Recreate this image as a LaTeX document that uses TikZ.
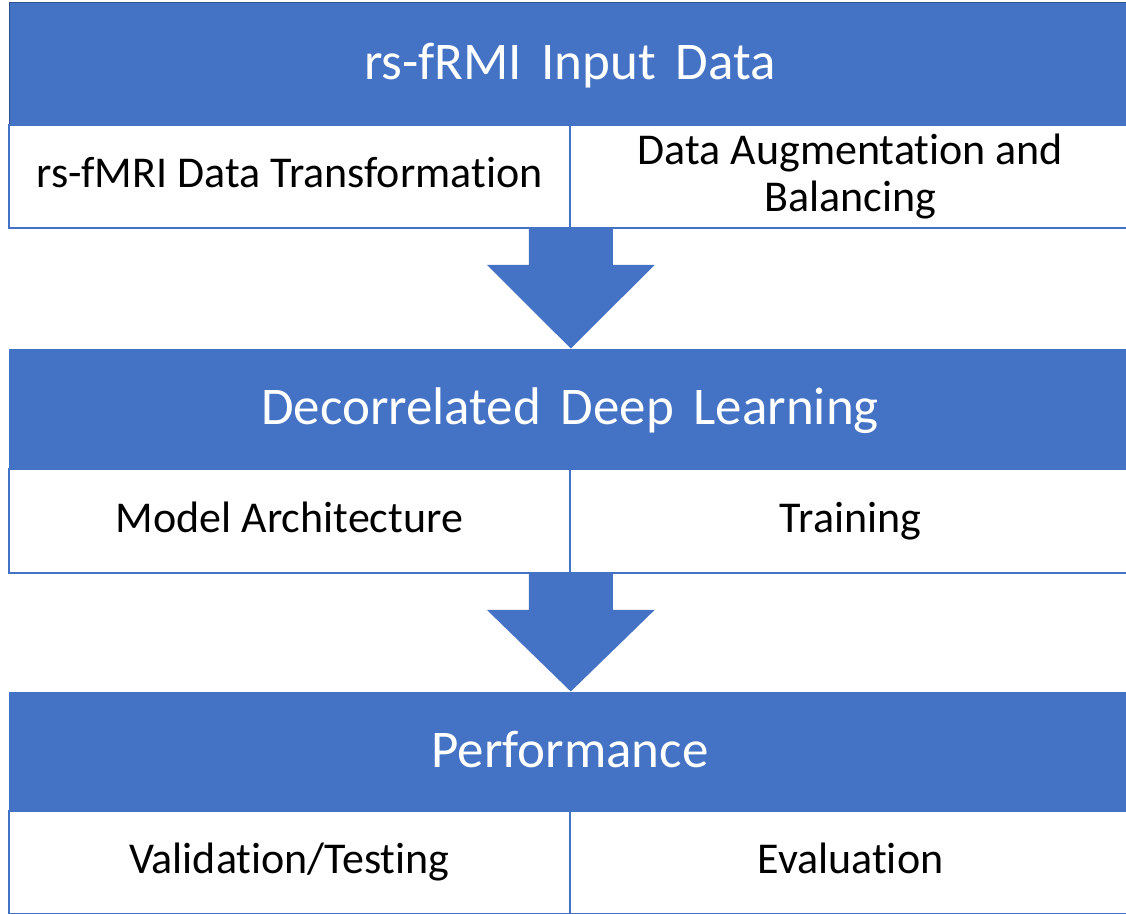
\documentclass[tikz,border=0pt]{standalone}
\usepackage{fontspec}
\setmainfont[Ligatures=NoCommon]{Carlito}
\usetikzlibrary{calc}
\definecolor{band}{HTML}{4472C4}
\definecolor{bandedge}{HTML}{2F528F}
\begin{document}
\begin{tikzpicture}[x=1pt,y=-1pt,
  title/.style={rectangle, fill=band, draw=band, line width=1pt,
    minimum width=1122pt, minimum height=#1, inner sep=0pt, text=white,
    text height=40pt, text depth=9pt,
    font={\fontsize{53}{60}\selectfont\spaceskip=0.37em\relax}},
  cell/.style={rectangle, fill=white, draw=band, line width=1.6pt,
    minimum width=561pt, minimum height=#1, inner sep=0pt, text=black,
    align=center, font={\fontsize{44}{50}\selectfont}},
  oneline/.style={text height=31pt, text depth=9pt},
  flow/.style={fill=band, draw=none}]
\useasboundingbox (0,0) rectangle (1126,913);
\clip (0,0) rectangle (1126,913);

% stage 1
\node[title=123pt, draw=bandedge] (b1) at (570,63.5) {rs-fRMI Input Data};
\node[cell=103pt, oneline] (c1l) at (289.5,176.5) {rs-fMRI Data Transformation};
\node[cell=103pt] (c1r) at (850.5,176.5) {Data Augmentation and\\[-3pt]Balancing};

% stage 2
\node[title=120pt] (b2) at (570,409) {Decorrelated Deep Learning};
\node[cell=104pt, oneline] (c2l) at (289.5,521) {Model Architecture};
\node[cell=104pt, oneline] (c2r) at (850.5,521) {Training};

% stage 3
\node[title=119pt] (b3) at (570,751.5) {Performance};
\node[cell=103pt, oneline] (c3l) at (289.5,862.5) {Validation/Testing};
\node[cell=103pt, oneline] (c3r) at (850.5,862.5) {Evaluation};

% block arrows between stages
\foreach \from/\to in {c1l/b2, c2l/b3}{
  \coordinate (tip) at (\from.south east |- \to.north);
  \fill[flow] ($(\from.south east)+(-42,0)$) -- ($(\from.south east)+(42,0)$)
    -- ($(\from.south east)+(42,36)$) -- ($(\from.south east)+(84,36)$)
    -- (tip) -- ($(\from.south east)+(-84,36)$)
    -- ($(\from.south east)+(-42,36)$) -- cycle;
}
\end{tikzpicture}
\end{document}
